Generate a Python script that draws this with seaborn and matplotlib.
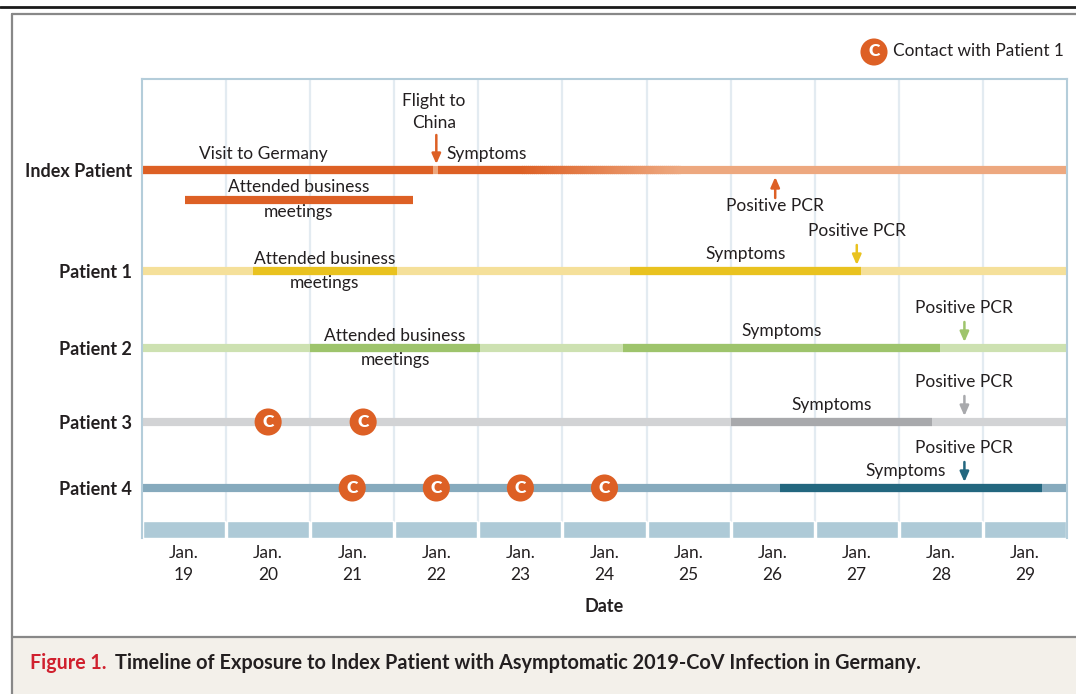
import numpy as np
import pandas as pd
import matplotlib
matplotlib.use("Agg")
import matplotlib.pyplot as plt
from matplotlib.lines import Line2D
from matplotlib.patches import Rectangle
from matplotlib.collections import LineCollection
from matplotlib.colors import LinearSegmentedColormap
import seaborn as sns

# ======================================================
# DATA (days; Jan. N is centred on N)
# ======================================================
DAYS = list(range(19, 30))
DAY_LABELS = [f"Jan.\n{d}" for d in DAYS]
PATIENTS = ["Index Patient", "Patient 1", "Patient 2", "Patient 3", "Patient 4"]

TIMELINE = [18.5, 29.5]
INDEX_VISIT = [18.5, 21.96]
INDEX_FLIGHT = 22.0
INDEX_FADE = [23.0, 24.9]

# meetings: Index patient, Patient 1, Patient 2
MEETING_START = [19.01, 19.82, 20.5]
MEETING_END = [21.72, 21.53, 22.52]

# symptoms / positive PCR, one per patient (index first)
SYMPTOM_START = [22.02, 24.3, 24.22, 25.5, 26.09]
SYMPTOM_END = [29.5, 27.05, 27.99, 27.9, 29.2]
PCR_DAY = [26.03, 27.0, 28.28, 28.28, 28.28]

# contacts with patient 1
CONTACT_PATIENT = ["Patient 3", "Patient 3", "Patient 4", "Patient 4", "Patient 4", "Patient 4"]
CONTACT_DAY = [20.0, 21.13, 21.0, 22.0, 23.0, 24.0]

# ======================================================
# STYLE / LAYOUT
# ======================================================
LIGHT = ["#EDA87F", "#F5E09A", "#CDE1B1", "#D2D3D5", "#86AABD"]
DARK = ["#DD6025", "#E9C21F", "#9EC46C", "#A8A9AC", "#23677F"]
ORANGE = "#DD6025"
TXT = "#231F20"
FONT = ["Lato", "DejaVu Sans"]

W, H = 1076, 694
ROW_Y = [170, 271, 348, 422, 488]      # vertical layout (pixel-like units)
INDEX_MEET_Y = 200
PLOT_TOP, BAND_TOP, PLOT_BOTTOM = 79, 521, 538
BAR_LW = 5.9
FS = 12.5

sns.set_theme(style="white")
plt.rcParams["font.family"] = FONT
plt.rcParams["text.color"] = TXT

fig = plt.figure(figsize=(W / 100, H / 100), dpi=100)
ax = fig.add_axes([142 / W, 1 - PLOT_BOTTOM / H, 925 / W, (PLOT_BOTTOM - PLOT_TOP) / H])

# --- segments table ---
segs = []
def add_seg(name, x0, x1, y, color):
    segs.append({"seg": name, "day": x0, "y": y, "color": color})
    segs.append({"seg": name, "day": x1, "y": y, "color": color})

for i, p in enumerate(PATIENTS):
    add_seg(f"{p} base", TIMELINE[0], TIMELINE[1], ROW_Y[i], LIGHT[i])
add_seg("Index visit", INDEX_VISIT[0], INDEX_VISIT[1], ROW_Y[0], DARK[0])
add_seg("Index symptoms", SYMPTOM_START[0], INDEX_FADE[0], ROW_Y[0], DARK[0])
add_seg("Index meetings", MEETING_START[0], MEETING_END[0], INDEX_MEET_Y, DARK[0])
for i in (1, 2):
    add_seg(f"{PATIENTS[i]} meetings", MEETING_START[i], MEETING_END[i], ROW_Y[i], DARK[i])
for i in range(1, 5):
    add_seg(f"{PATIENTS[i]} symptoms", SYMPTOM_START[i], SYMPTOM_END[i], ROW_Y[i], DARK[i])

df = pd.DataFrame(segs)
order = list(dict.fromkeys(df["seg"]))
palette = dict(zip(df["seg"], df["color"]))

# grid lines
for d in DAYS[:-1]:
    ax.plot([d + 0.5, d + 0.5], [PLOT_TOP, BAND_TOP], color="#E3EBF1", lw=1.6, zorder=1)

sns.lineplot(data=df, x="day", y="y", hue="seg", hue_order=order, palette=palette,
             units="seg", estimator=None, sort=False, lw=BAR_LW, legend=False,
             solid_capstyle="butt", ax=ax, zorder=2)

# index symptom fade (dark -> light)
cmap = LinearSegmentedColormap.from_list("fade", [DARK[0], LIGHT[0]])
edges = np.linspace(INDEX_FADE[0], INDEX_FADE[1], 81)
lc = LineCollection([[(a, ROW_Y[0]), (b + 0.005, ROW_Y[0])] for a, b in zip(edges[:-1], edges[1:])],
                    colors=cmap(np.linspace(0, 1, 80)), linewidths=BAR_LW, capstyle="butt", zorder=2.5)
ax.add_collection(lc)

# date band
ax.broken_barh([(d - 0.5 + 0.012, 1 - 0.024) for d in DAYS], (BAND_TOP, PLOT_BOTTOM - BAND_TOP),
               facecolors="#AECAD7", zorder=2)

# contacts
contact_y = [ROW_Y[PATIENTS.index(p)] for p in CONTACT_PATIENT]
sns.scatterplot(x=CONTACT_DAY, y=contact_y, s=380, color=ORANGE, edgecolor="none",
                ax=ax, zorder=4, legend=False)
for x, y in zip(CONTACT_DAY, contact_y):
    ax.text(x, y + 0.5, "C", color="white", fontsize=12.5, fontweight="heavy",
            ha="center", va="center", zorder=5)

# arrows
def arrow(x, y_tail, y_tip, color):
    ax.annotate("", xy=(x, y_tip), xytext=(x, y_tail),
                arrowprops=dict(arrowstyle="-|>,head_length=0.5,head_width=0.22",
                                color=color, lw=1.8, shrinkA=0, shrinkB=0), zorder=3)

arrow(INDEX_FLIGHT, 135, 164, ORANGE)
arrow(PCR_DAY[0], 198, 177, ORANGE)
for i in range(1, 5):
    arrow(PCR_DAY[i], ROW_Y[i] - 26, ROW_Y[i] - 6, DARK[i])

# annotations
kw = dict(fontsize=FS, ha="center", va="center", color=TXT, zorder=6)
ax.text(INDEX_FLIGHT - 0.03, 112, "Flight to\nChina", linespacing=1.42, **kw)
ax.text(np.mean(INDEX_VISIT) - 0.29, ROW_Y[0] - 16, "Visit to Germany", **kw)
ax.text(SYMPTOM_START[0] + 0.1, ROW_Y[0] - 16, "Symptoms", fontsize=FS, ha="left",
        va="center", color=TXT, zorder=6)
ax.text(PCR_DAY[0], 206, "Positive PCR", **kw)
ax.text(np.mean([MEETING_START[0], MEETING_END[0]]), INDEX_MEET_Y - 13, "Attended business", **kw)
ax.text(np.mean([MEETING_START[0], MEETING_END[0]]), INDEX_MEET_Y + 12, "meetings", **kw)
for i in (1, 2):
    xm = np.mean([MEETING_START[i], MEETING_END[i]])
    ax.text(xm, ROW_Y[i] - 12, "Attended business", **kw)
    ax.text(xm, ROW_Y[i] + 12, "meetings", **kw)
for i in range(1, 5):
    # patient 4's label is nudged left of the PCR arrow
    nudge = -0.07 if i == 4 else 0.0
    ax.text(np.mean([SYMPTOM_START[i], SYMPTOM_END[i]]) + nudge, ROW_Y[i] - 17, "Symptoms", **kw)
    ax.text(PCR_DAY[i], ROW_Y[i] - 40, "Positive PCR", **kw)

# axes
ax.set_xlim(*TIMELINE)
ax.set_ylim(PLOT_BOTTOM, PLOT_TOP)
ax.set_xticks(DAYS)
ax.set_xticklabels(DAY_LABELS, fontsize=FS, linespacing=1.5, color=TXT)
ax.set_yticks(ROW_Y)
ax.set_yticklabels(PATIENTS, fontsize=13, fontweight="bold", color=TXT)
ax.tick_params(axis="both", length=0)
ax.tick_params(axis="x", pad=5)
ax.tick_params(axis="y", pad=7)
ax.set_xlabel("Date", fontsize=13, fontweight="bold", color=TXT)
ax.xaxis.set_label_coords(0.5, -(606 - PLOT_BOTTOM) / (PLOT_BOTTOM - PLOT_TOP))
ax.xaxis.label.set_va("center")
ax.set_ylabel("")
for side in ("left", "top", "right"):
    ax.spines[side].set_color("#B4CDDA")
    ax.spines[side].set_linewidth(1.5)
ax.spines["bottom"].set_visible(False)

# legend
ax.scatter([874 / W], [1 - 52 / H], s=380, color=ORANGE, edgecolor="none",
           transform=fig.transFigure, clip_on=False, zorder=5)
fig.text(874 / W, 1 - 51.5 / H, "C", color="white", fontsize=12.5, fontweight="heavy",
         ha="center", va="center", zorder=6)
fig.text(893 / W, 1 - 51 / H, "Contact with Patient 1", fontsize=12.4, ha="left",
         va="center", color=TXT)

# frame and caption
fig.patches.append(Rectangle((13 / W, 0), 1, (H - 638) / H, transform=fig.transFigure,
                             facecolor="#F3F0EA", edgecolor="none", zorder=-1))
fig.lines.append(Line2D([0, 1], [1 - 7 / H] * 2, transform=fig.transFigure, color="#1A1A1A", lw=2))
fig.lines.append(Line2D([12 / W, 1], [1 - 14 / H] * 2, transform=fig.transFigure, color="#888888", lw=1.6))
fig.lines.append(Line2D([12 / W] * 2, [0, 1 - 14 / H], transform=fig.transFigure, color="#888888", lw=1.6))
fig.lines.append(Line2D([12 / W, 1], [1 - 637 / H] * 2, transform=fig.transFigure, color="#888888", lw=1.6))

cap1 = fig.text(30 / W, 1 - 663 / H, "Figure 1.", fontsize=14.1, fontweight="bold",
                color="#D0202E", ha="left", va="center")
ax.annotate("Timeline of Exposure to Index Patient with Asymptomatic 2019-CoV Infection in Germany.",
            xy=(1, 0.5), xycoords=cap1, xytext=(6, 0), textcoords="offset points",
            fontsize=14.3, fontweight="bold", color=TXT, ha="left", va="center",
            annotation_clip=False)

fig.savefig("out.png", dpi=100)
